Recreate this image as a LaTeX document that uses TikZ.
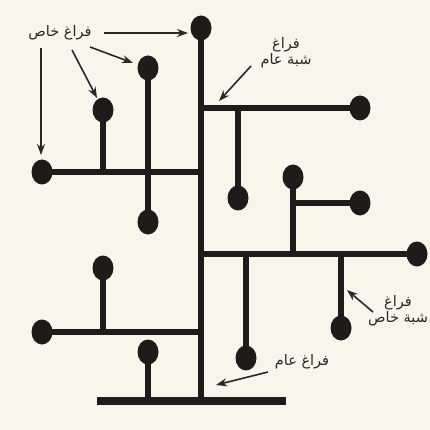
\documentclass[tikz,border=0pt]{standalone}
\usepackage{fontspec}
\newfontfamily\arabicfont[Script=Arabic]{DejaVu Sans}
\TeXXeTstate=1
\usetikzlibrary{arrows.meta,shapes.geometric}
\definecolor{paper}{HTML}{F8F5EA}
\definecolor{ink}{HTML}{1E1B1A}
\definecolor{pen}{HTML}{2A2827}
\tikzset{
  dot/.style={ellipse,fill=ink,minimum width=21pt,minimum height=25pt,inner sep=0pt},
  wall/.style={draw=ink,line width=6.5pt},
  base/.style={draw=ink,line width=7.5pt},
  pointer/.style={draw=pen,line width=1.6pt,-{Stealth[length=11pt,width=8pt]}},
  lbl/.style={text=pen,font=\arabicfont\fontsize{14.5}{16}\selectfont,align=center,inner sep=0pt}
}
\begin{document}
\begin{tikzpicture}[x=1pt,y=-1pt]
\useasboundingbox (0,0) rectangle (430,430);
\fill[paper] (0,0) rectangle (430,430);
% junction coordinates
\coordinate (b0) at (201,401);
\coordinate (b1) at (97,401);
\coordinate (b2) at (286,401);
\coordinate (j1) at (201,172);
\coordinate (j2) at (201,108);
\coordinate (j3) at (201,254);
\coordinate (j4) at (201,332);
\coordinate (k1) at (103,172);
\coordinate (k2) at (238,108);
\coordinate (k3) at (293,254);
\coordinate (k4) at (293,203);
\coordinate (k5) at (246,254);
\coordinate (k6) at (341,254);
\coordinate (k7) at (103,332);
\coordinate (k8) at (148,401);
% lines
\draw[base] (b1) -- (b2);
\draw[wall] (201,28) -- (b0);
\draw[wall] (42,172) -- (j1);
\draw[wall] (103,110) -- (k1);
\draw[wall] (148,68) -- (148,222);
\draw[wall] (j2) -- (360,108);
\draw[wall] (238,198) -- (k2);
\draw[wall] (293,177) -- (k3);
\draw[wall] (k4) -- (360,203);
\draw[wall] (j3) -- (417,254);
\draw[wall] (k5) -- (246,358);
\draw[wall] (k6) -- (341,328);
\draw[wall] (42,332) -- (j4);
\draw[wall] (103,268) -- (k7);
\draw[wall] (148,352) -- (k8);
% dots
\node[dot] (d1) at (201,28) {};
\node[dot] (d2) at (42,172) {};
\node[dot] (d3) at (103,110) {};
\node[dot] (d4) at (148,68) {};
\node[dot] (d5) at (148,222) {};
\node[dot] (d6) at (360,108) {};
\node[dot] (d7) at (238,198) {};
\node[dot] (d8) at (293,177) {};
\node[dot] (d9) at (360,203) {};
\node[dot] (d10) at (417,254) {};
\node[dot] (d11) at (246,358) {};
\node[dot] (d12) at (341,328) {};
\node[dot] (d13) at (42,332) {};
\node[dot] (d14) at (103,268) {};
\node[dot] (d15) at (148,352) {};
% labels
\node[lbl] (t1) at (60,33) {\beginR فراغ خاص\endR};
\node[lbl] (t2) at (286,53) {\beginR فراغ\endR\\\beginR شبة عام\endR};
\node[lbl] (t3) at (398,311) {\beginR فراغ\endR\\\beginR شبة خاص\endR};
\node[lbl] (t4) at (302,362) {\beginR فراغ عام\endR};
% arrow anchors
\coordinate (a1) at (104,33);
\coordinate (a2) at (90,47);
\coordinate (a3) at (72,50);
\coordinate (a4) at (41,48);
\coordinate (e1) at (188,33);
\coordinate (e2) at (133,63);
\coordinate (e3) at (97,98);
\coordinate (e4) at (41,155);
\coordinate (a5) at (251,66);
\coordinate (e5) at (219,101);
\coordinate (a6) at (373,312);
\coordinate (e6) at (347,290);
\coordinate (a7) at (268,372);
\coordinate (e7) at (216,385);
\draw[pointer] (a1) -- (e1);
\draw[pointer] (a2) -- (e2);
\draw[pointer] (a3) -- (e3);
\draw[pointer] (a4) -- (e4);
\draw[pointer] (a5) -- (e5);
\draw[pointer] (a6) -- (e6);
\draw[pointer] (a7) -- (e7);
\end{tikzpicture}
\end{document}
